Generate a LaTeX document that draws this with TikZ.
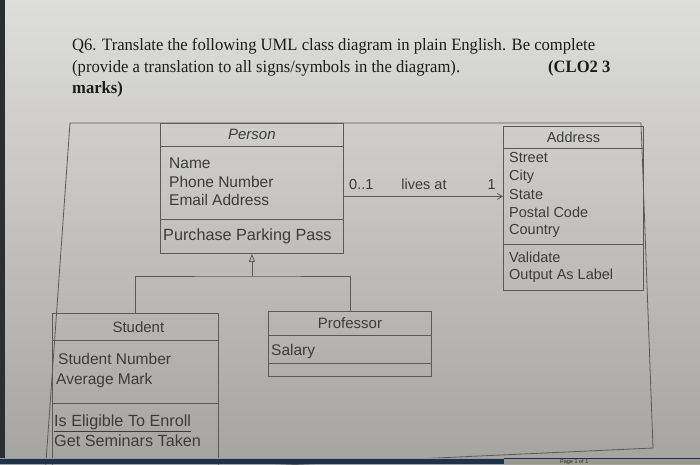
\documentclass[tikz,border=0pt]{standalone}
\usepackage{fontspec}
\setmainfont{Liberation Serif}
\setsansfont{Liberation Sans}
\newfontfamily\qfont[FakeStretch=0.96]{Liberation Serif}
\usetikzlibrary{arrows.meta}
\definecolor{bgtop}{HTML}{DEDEDC}
\definecolor{bgbot}{HTML}{A6A4A0}
\definecolor{edgedark}{HTML}{2B2E33}
\definecolor{barblue}{HTML}{1E3249}
\definecolor{barline}{HTML}{8E9AAA}
\definecolor{bargray}{HTML}{9A9894}
\definecolor{ink}{HTML}{3C3C3C}
\definecolor{titleink}{HTML}{1C1C1C}
\definecolor{lin}{HTML}{5A5A5A}
\tikzset{
  comp/.style={draw=lin, line width=0.8pt, rectangle, inner sep=0pt, anchor=north west},
  txt/.style={anchor=west, inner sep=0pt, text=ink, font=\sffamily\fontsize{15.5}{16}\selectfont},
  txtl/.style={txt, font=\sffamily\fontsize{16.2}{17}\selectfont},
  txts/.style={txt, font=\sffamily\fontsize{14.5}{15}\selectfont},
  ctitle/.style={inner sep=0pt, text=ink, font=\sffamily\fontsize{15}{16}\selectfont},
  qtext/.style={anchor=base west, inner sep=0pt, text=titleink, font=\qfont\fontsize{17.3}{18}\selectfont},
  qbold/.style={qtext, font=\qfont\bfseries\fontsize{17.3}{18}\selectfont},
  conn/.style={draw=lin, line width=0.8pt},
}
\begin{document}
\begin{tikzpicture}[x=1pt,y=-1pt]
\useasboundingbox (0,0) rectangle (700,464);
\shade[top color=bgtop, bottom color=bgbot] (0,0) rectangle (700,464);
\fill[edgedark] (0,0) rectangle (5,464);

% question text
\node[qtext] (q1) at (72,50) {Q6. Translate the following UML class diagram in plain English. Be complete};
\node[qtext] (q2) at (72,72) {(provide a translation to all signs/symbols in the diagram).};
\node[qbold] (q3) at (548,72) {(CLO2 3};
\node[qbold] (q4) at (72,93) {marks)};

% outer frame
\draw[conn] (70,123) -- (641,123) -- (653,448) -- (45,476) -- cycle;

% Person
\node[comp, minimum width=183pt, minimum height=23pt] (pt) at (160,123) {};
\node[comp, minimum width=183pt, minimum height=73pt] (pa) at (160,146) {};
\node[comp, minimum width=183pt, minimum height=34pt] (po) at (160,219) {};
\node[ctitle, font=\sffamily\itshape\fontsize{15}{16}\selectfont] (ptn) at (pt.center) {Person};
\node[txt] (pa1) at (169,163) {Name};
\node[txt] (pa2) at (169,181.5) {Phone Number};
\node[txt] (pa3) at (169,200) {Email Address};
\node[txtl] (po1) at (163,236) {Purchase Parking Pass};

% Address
\node[comp, minimum width=140pt, minimum height=22pt] (at) at (503,126) {};
\node[comp, minimum width=140pt, minimum height=96pt] (aa) at (503,148) {};
\node[comp, minimum width=140pt, minimum height=46pt] (ao) at (503,244) {};
\node[ctitle, font=\sffamily\fontsize{14.5}{15}\selectfont] (atn) at (at.center) {Address};
\node[txts] (aa1) at (509,158) {Street};
\node[txts] (aa2) at (509,176.5) {City};
\node[txts] (aa3) at (509,194.5) {State};
\node[txts] (aa4) at (509,212.5) {Postal Code};
\node[txts] (aa5) at (509,231) {Country};
\node[txts] (ao1) at (509,257) {Validate};
\node[txts] (ao2) at (509,276) {Output As Label};

% Student
\node[comp, minimum width=166pt, minimum height=27pt] (st) at (52,313) {};
\node[comp, minimum width=166pt, minimum height=63pt] (sa) at (52,340) {};
\node[comp, minimum width=166pt, minimum height=70pt] (so) at (52,403) {};
\node[ctitle] (stn) at ([xshift=3pt]st.center) {Student};
\node[txt] (sa1) at (58,359) {Student Number};
\node[txt] (sa2) at (56,380) {Average Mark};
\node[txtl] (so1) at (54,423) {\underline{Is Eligible To Enroll}};
\node[txtl] (so2) at (54,441) {Get Seminars Taken};

% Professor
\node[comp, minimum width=163pt, minimum height=24pt] (prt) at (268,311) {};
\node[comp, minimum width=163pt, minimum height=28pt] (pra) at (268,335) {};
\node[comp, minimum width=163pt, minimum height=13pt] (pro) at (268,363) {};
\node[ctitle] (prtn) at (prt.center) {Professor};
\node[txt] (pra1) at (271,351) {Salary};

% generalization
\coordinate (gj) at (po.south |- 0,276);
\draw[conn, -{Triangle[open, length=8pt, width=6pt]}] (gj) -- (po.south);
\draw[conn] (st.north) |- (gj) -| (prt.north);

% association
\coordinate (as) at (aa.west -| pa.east);
\draw[conn, -{Straight Barb[length=5pt, width=6pt]}] (as) -- (aa.west);
\node[txts, anchor=base west] (m1) at (349,189) {0..1};
\node[txts, anchor=base] (lv) at (424,189) {lives at};
\node[txts, anchor=base east] (m2) at (496,189) {1};

% bottom bar of screen
\fill[barblue] (0,458) rectangle (700,464);
\fill[bargray] (504,459) rectangle (700,464);
\draw[barline, line width=1pt] (0,458) -- (504,458);
\node[anchor=base west, inner sep=0pt, text=black!80, font=\sffamily\fontsize{5.5}{6}\selectfont] (pg) at (560,463.6) {Page 1 of 1};
\end{tikzpicture}
\end{document}
